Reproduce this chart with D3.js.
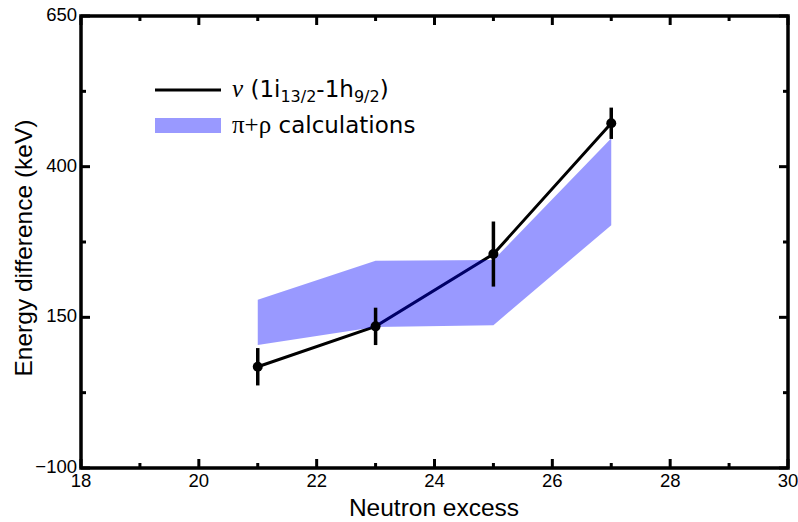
<!DOCTYPE html>
<html>
<head>
<meta charset="utf-8">
<script src="https://cdn.jsdelivr.net/npm/d3@7"></script>
<style>
  html, body { margin: 0; padding: 0; background: #fff; }
  svg { display: block; }
  .tick-label { font-family: "Liberation Sans", Arial, sans-serif; font-size: 18.5px; fill: #000; }
  .axis-title { font-family: "Liberation Sans", Arial, sans-serif; font-size: 24.5px; fill: #000; }
  .legend-text { font-family: "DejaVu Sans", sans-serif; font-size: 23px; fill: #000; }
</style>
</head>
<body>
<svg id="chart" width="798" height="522"></svg>
<script>
// Measured neutron 1i13/2 - 1h9/2 energy differences
const neutronExcess = [21, 23, 25, 27];
const energyDiff = [68, 135, 255, 472];
const energyErr = [31, 31, 54, 26];

// Calculated band (lower / upper bounds)
const bandLower = [104, 134, 137, 303];
const bandUpper = [179, 244, 245, 447];

// Axis ticks
const xMajorTicks = [18, 20, 22, 24, 26, 28, 30];
const xMinorTicks = [19, 21, 23, 25, 27, 29];
const yMajorTicks = [-100, 150, 400, 650];
const yMinorTicks = [25, 275, 525];

const svg = d3.select("#chart");
const plotLeft = 81, plotRight = 788, plotTop = 16, plotBottom = 468;

const x = d3.scaleLinear().domain([18, 30]).range([plotLeft, plotRight]);
const y = d3.scaleLinear().domain([-100, 650]).range([plotBottom, plotTop]);

// Measured line (drawn first so the translucent band tints it)
const line = d3.line().x((d, i) => x(neutronExcess[i])).y(d => y(d));
svg.append("path")
  .datum(energyDiff)
  .attr("d", line)
  .attr("fill", "none")
  .attr("stroke", "#000")
  .attr("stroke-width", 3);

// Calculation band
const area = d3.area()
  .x((d, i) => x(neutronExcess[i]))
  .y0((d, i) => y(bandLower[i]))
  .y1(d => y(d));
svg.append("path")
  .datum(bandUpper)
  .attr("d", area)
  .attr("fill", "#0000ff")
  .attr("fill-opacity", 0.4);

// Error bars
svg.append("g").selectAll("line")
  .data(energyDiff)
  .join("line")
  .attr("x1", (d, i) => x(neutronExcess[i]))
  .attr("x2", (d, i) => x(neutronExcess[i]))
  .attr("y1", (d, i) => y(d - energyErr[i]))
  .attr("y2", (d, i) => y(d + energyErr[i]))
  .attr("stroke", "#000")
  .attr("stroke-width", 3.5);

// Markers
svg.append("g").selectAll("circle")
  .data(energyDiff)
  .join("circle")
  .attr("cx", (d, i) => x(neutronExcess[i]))
  .attr("cy", d => y(d))
  .attr("r", 5)
  .attr("fill", "#000");

// Frame
svg.append("rect")
  .attr("x", plotLeft).attr("y", plotTop)
  .attr("width", plotRight - plotLeft).attr("height", plotBottom - plotTop)
  .attr("fill", "none")
  .attr("stroke", "#000")
  .attr("stroke-width", 3.5);

// Inward ticks on all four sides
const tickG = svg.append("g").attr("stroke", "#000").attr("stroke-width", 3);
function xTicks(vals, len) {
  vals.forEach(v => {
    tickG.append("line").attr("x1", x(v)).attr("x2", x(v)).attr("y1", plotBottom).attr("y2", plotBottom - len);
    tickG.append("line").attr("x1", x(v)).attr("x2", x(v)).attr("y1", plotTop).attr("y2", plotTop + len);
  });
}
function yTicks(vals, len) {
  vals.forEach(v => {
    tickG.append("line").attr("y1", y(v)).attr("y2", y(v)).attr("x1", plotLeft).attr("x2", plotLeft + len);
    tickG.append("line").attr("y1", y(v)).attr("y2", y(v)).attr("x1", plotRight).attr("x2", plotRight - len);
  });
}
xTicks(xMajorTicks, 9);
xTicks(xMinorTicks, 5);
yTicks(yMajorTicks, 9);
yTicks(yMinorTicks, 5);

// Tick labels
svg.append("g").selectAll("text")
  .data(xMajorTicks)
  .join("text")
  .attr("class", "tick-label")
  .attr("x", d => x(d))
  .attr("y", 487)
  .attr("text-anchor", "middle")
  .text(d => d);

svg.append("g").selectAll("text")
  .data(yMajorTicks)
  .join("text")
  .attr("class", "tick-label")
  .attr("x", 77)
  .attr("y", d => y(d) + 5)
  .attr("text-anchor", "end")
  .text(d => d < 0 ? "\u2212" + Math.abs(d) : d);

// Axis titles
svg.append("text")
  .attr("class", "axis-title")
  .attr("x", 434)
  .attr("y", 516)
  .attr("text-anchor", "middle")
  .text("Neutron excess");

svg.append("text")
  .attr("class", "axis-title")
  .attr("transform", "translate(32,248) rotate(-90)")
  .attr("text-anchor", "middle")
  .text("Energy difference (keV)");

// Legend
const lg = svg.append("g");
lg.append("line")
  .attr("x1", 155).attr("x2", 221)
  .attr("y1", 90).attr("y2", 90)
  .attr("stroke", "#000").attr("stroke-width", 3);
const t1 = lg.append("text").attr("class", "legend-text").attr("x", 232).attr("y", 97);
t1.append("tspan").attr("font-family", "'Liberation Serif', serif").attr("font-style", "italic").attr("font-size", 25).text("\u03bd");
t1.append("tspan").text(" (1i");
t1.append("tspan").attr("font-size", 16).attr("dy", 5).text("13/2");
t1.append("tspan").attr("dy", -5).text("-1h");
t1.append("tspan").attr("font-size", 16).attr("dy", 5).text("9/2");
t1.append("tspan").attr("dy", -5).text(")");

lg.append("rect")
  .attr("x", 155).attr("y", 118)
  .attr("width", 66).attr("height", 15)
  .attr("fill", "#0000ff").attr("fill-opacity", 0.4);
const t2 = lg.append("text").attr("class", "legend-text").attr("x", 232).attr("y", 133);
t2.append("tspan").attr("font-family", "'Liberation Serif', serif").attr("font-size", 25).text("\u03c0+\u03c1");
t2.append("tspan").text(" calculations");
</script>
</body>
</html>
